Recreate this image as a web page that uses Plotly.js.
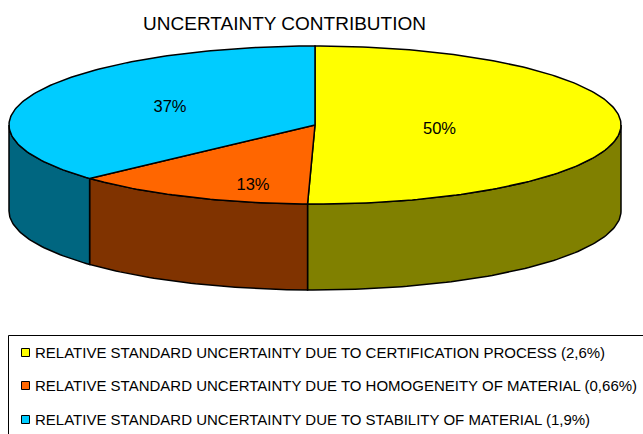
<!DOCTYPE html>
<html><head><meta charset="utf-8">
<script src="https://cdn.plot.ly/plotly-3.0.1.min.js"></script>
<style>html,body{margin:0;padding:0;background:#fff;overflow:hidden}</style>
</head><body><div id="chart" style="width:643px;height:434px"></div>
<script>
var chartTitle = "UNCERTAINTY CONTRIBUTION";
var categories = [
  "RELATIVE STANDARD UNCERTAINTY DUE TO CERTIFICATION PROCESS (2,6%)",
  "RELATIVE STANDARD UNCERTAINTY DUE TO HOMOGENEITY OF MATERIAL (0,66%)",
  "RELATIVE STANDARD UNCERTAINTY DUE TO STABILITY OF MATERIAL (1,9%)"
];
var values = [2.6, 0.66, 1.9];
var topColors = ["#FFFF00", "#FF6600", "#00CCFF"];
var sideColors = ["#808000", "#803300", "#006680"];

// Pie geometry, in page pixels
var cx = 315, cy = 125, rx = 306, ry = 79, depth = 86;
var labelX = [439.5, 253, 170], labelY = [130, 185.5, 107.5];
var legendY = [352.5, 385.5, 419.5], legendMarkX = 25.5, legendTextX = 35, legendTextDy = 1.5;
var FONT = "Liberation Sans, Arial, sans-serif";

var total = values.reduce(function(a,b){return a+b;},0);
function px(deg){return cx + rx*Math.sin(deg*Math.PI/180);}
function py(deg,d){return cy - ry*Math.cos(deg*Math.PI/180) + (d||0);}
function arc(a,b){var out=[];var n=Math.max(2,Math.ceil(Math.abs(b-a)));
  for(var i=0;i<=n;i++)out.push(a+(b-a)*i/n);return out;}

var sideTraces = [], topTraces = [], start = 0;
values.forEach(function(v,i){
  var end = start + 360*v/total;
  var s0 = Math.max(start,90), s1 = Math.min(end,270);
  if(s1>s0){
    var f = arc(s0,s1), r = f.slice().reverse();
    sideTraces.push({type:"scatter",mode:"lines",fill:"toself",fillcolor:sideColors[i],
      line:{color:"#000",width:1.5},hoverinfo:"skip",showlegend:false,
      x:f.map(function(a){return px(a);}).concat(r.map(function(a){return px(a);})).concat([px(s0)]),
      y:f.map(function(a){return py(a,0);}).concat(r.map(function(a){return py(a,depth);})).concat([py(s0,0)])});
  }
  var t = arc(start,end);
  topTraces.push({type:"scatter",mode:"lines",fill:"toself",fillcolor:topColors[i],
    line:{color:"#000",width:1.5},name:categories[i],showlegend:false,
    x:[cx].concat(t.map(function(a){return px(a);})).concat([cx]),
    y:[cy].concat(t.map(function(a){return py(a,0);})).concat([cy])});
  start = end;
});

var pctTrace = {type:"scatter",mode:"text",x:labelX,y:labelY,
  text:values.map(function(v){return Math.round(100*v/total)+"%";}),
  textposition:"middle center",textfont:{family:FONT,size:16.5,color:"#000"},
  hoverinfo:"skip",showlegend:false};

var keyTraces = categories.map(function(c,i){
  return {type:"scatter",mode:"markers",x:[legendMarkX],y:[legendY[i]],name:c,
    marker:{symbol:"square",size:8,color:topColors[i],line:{color:"#000",width:1}},
    showlegend:false,hoverinfo:"name"};
});
var keyText = {type:"scatter",mode:"text",x:categories.map(function(){return legendTextX;}),
  y:legendY.map(function(y){return y+legendTextDy;}),
  text:categories,textposition:"middle right",textfont:{family:FONT,size:15,color:"#000"},
  hoverinfo:"skip",showlegend:false};

var layout = {
  width:643,height:434,margin:{l:0,r:0,t:0,b:0},paper_bgcolor:"#fff",plot_bgcolor:"#fff",showlegend:false,
  title:{text:chartTitle,x:284.5/643,xanchor:"center",y:1-23/434,yanchor:"middle",
    font:{family:FONT,size:19,color:"#000"}},
  xaxis:{range:[0,643],visible:false,fixedrange:true},
  yaxis:{range:[434,0],visible:false,fixedrange:true},
  shapes:[{type:"rect",xref:"x",yref:"y",x0:8.5,y0:335.5,x1:700,y1:500,line:{color:"#000",width:1},layer:"below"}]
};
Plotly.newPlot("chart",sideTraces.concat(topTraces,[pctTrace],keyTraces,[keyText]),layout,{displayModeBar:false,staticPlot:true});
</script></body></html>
